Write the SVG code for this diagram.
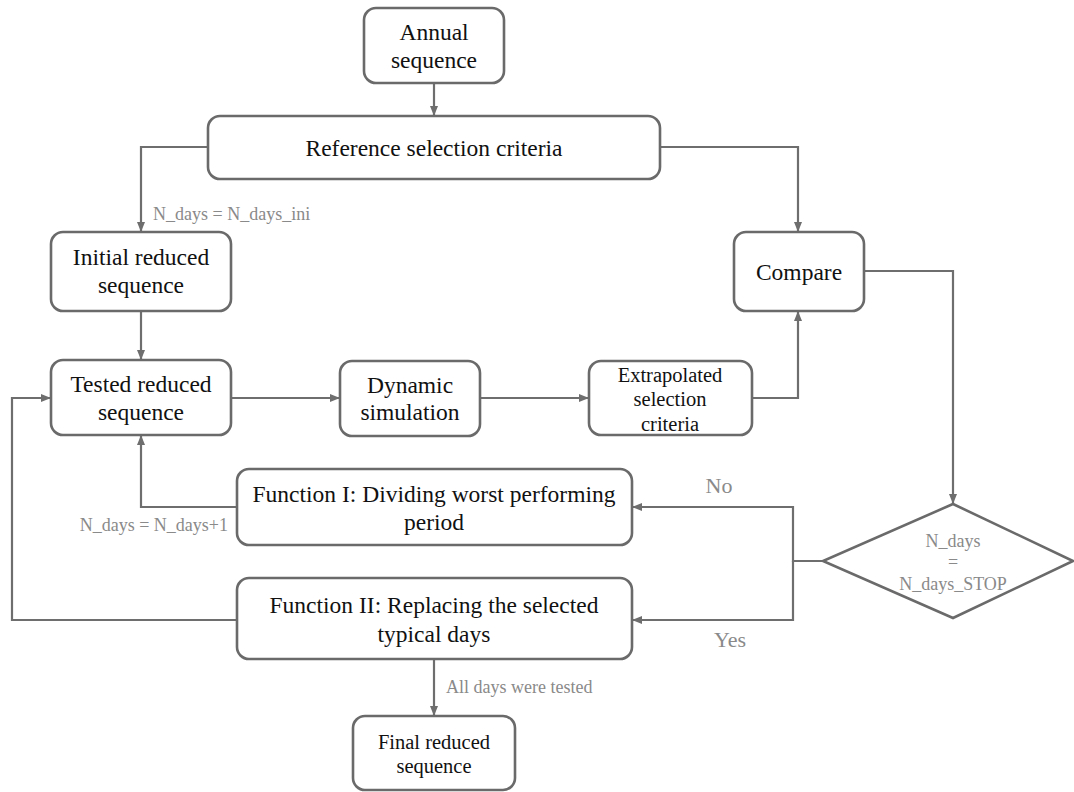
<svg xmlns="http://www.w3.org/2000/svg" width="1074" height="792" viewBox="0 0 1074 792">
<style>
.box{fill:#fff;stroke:#6a6a6a;stroke-width:2.6}
.t{font-family:"Liberation Serif","Times New Roman",serif;font-size:23.5px;fill:#111;text-anchor:middle}
.ts{font-family:"Liberation Serif","Times New Roman",serif;font-size:20.5px;fill:#111;text-anchor:middle}
.lbl{font-family:"Liberation Serif","Times New Roman",serif;font-size:18px;fill:#8a8a8a}
.lbb{font-family:"Liberation Serif","Times New Roman",serif;font-size:22px;fill:#8a8a8a;text-anchor:middle}
.c{fill:none;stroke:#6e6e6e;stroke-width:2.2}
</style>
<defs>
<marker id="ah" markerUnits="userSpaceOnUse" markerWidth="10" markerHeight="10" viewBox="0 0 10 10" refX="10" refY="5" orient="auto">
<path d="M0,1 L10,5 L0,9 Z" fill="#6e6e6e"/>
</marker>
</defs>
<rect width="1074" height="792" fill="#fff"/>
<g id="connectors">
<path class="c" d="M434,83 V116" marker-end="url(#ah)"/>
<path class="c" d="M208,147 H141 V232" marker-end="url(#ah)"/>
<path class="c" d="M660,147 H798 V232" marker-end="url(#ah)"/>
<path class="c" d="M141,311 V360" marker-end="url(#ah)"/>
<path class="c" d="M231,398 H340" marker-end="url(#ah)"/>
<path class="c" d="M480,398 H589" marker-end="url(#ah)"/>
<path class="c" d="M752,398 H798 V311" marker-end="url(#ah)"/>
<path class="c" d="M864,271 H953 V504" marker-end="url(#ah)"/>
<path class="c" d="M823,561 H793 V507 H632" marker-end="url(#ah)"/>
<path class="c" d="M793,561 V620 H632" marker-end="url(#ah)"/>
<path class="c" d="M237,507 H141 V435" marker-end="url(#ah)"/>
<path class="c" d="M237,620 H12 V398 H51" marker-end="url(#ah)"/>
<path class="c" d="M434,659 V716" marker-end="url(#ah)"/>
<text class="lbl" x="153" y="220">N_days = N_days_ini</text>
<text class="lbl" x="228" y="531" text-anchor="end">N_days = N_days+1</text>
<text class="lbl" x="446" y="693">All days were tested</text>
<text class="lbb" x="719" y="493">No</text>
<text class="lbb" x="730" y="647">Yes</text>
</g>
<g id="annual">
<rect class="box" x="364" y="8" width="140" height="75" rx="12"/>
<text class="t" x="434" y="40">Annual</text>
<text class="t" x="434" y="68">sequence</text>
</g>
<g id="reference">
<rect class="box" x="208" y="116" width="452" height="63" rx="12"/>
<text class="t" x="434" y="156">Reference selection criteria</text>
</g>
<g id="initial">
<rect class="box" x="51" y="232" width="180" height="79" rx="12"/>
<text class="t" x="141" y="265">Initial reduced</text>
<text class="t" x="141" y="293">sequence</text>
</g>
<g id="compare">
<rect class="box" x="734" y="232" width="130" height="79" rx="12"/>
<text class="t" x="799" y="280">Compare</text>
</g>
<g id="tested">
<rect class="box" x="51" y="360" width="180" height="75" rx="12"/>
<text class="t" x="141" y="392">Tested reduced</text>
<text class="t" x="141" y="420">sequence</text>
</g>
<g id="dynamic">
<rect class="box" x="340" y="361" width="140" height="75" rx="12"/>
<text class="t" x="410" y="393">Dynamic</text>
<text class="t" x="410" y="420">simulation</text>
</g>
<g id="extrapolated">
<rect class="box" x="589" y="361" width="163" height="74" rx="12"/>
<text class="ts" x="670" y="382">Extrapolated</text>
<text class="ts" x="670" y="406">selection</text>
<text class="ts" x="670" y="431">criteria</text>
</g>
<g id="function1">
<rect class="box" x="237" y="469" width="395" height="76" rx="12"/>
<text class="t" x="434" y="502">Function I: Dividing worst performing</text>
<text class="t" x="434" y="530">period</text>
</g>
<g id="decision">
<polygon class="box" points="953,504 1073,561 953,618 823,561"/>
<text class="lbl" x="953" y="547" text-anchor="middle">N_days</text>
<text class="lbl" x="953" y="568" text-anchor="middle">=</text>
<text class="lbl" x="953" y="590" text-anchor="middle">N_days_STOP</text>
</g>
<g id="function2">
<rect class="box" x="237" y="578" width="395" height="81" rx="12"/>
<text class="t" x="434" y="613">Function II: Replacing the selected</text>
<text class="t" x="434" y="642">typical days</text>
</g>
<g id="final">
<rect class="box" x="353" y="716" width="162" height="74" rx="12"/>
<text class="ts" x="434" y="749">Final reduced</text>
<text class="ts" x="434" y="773">sequence</text>
</g>
</svg>
